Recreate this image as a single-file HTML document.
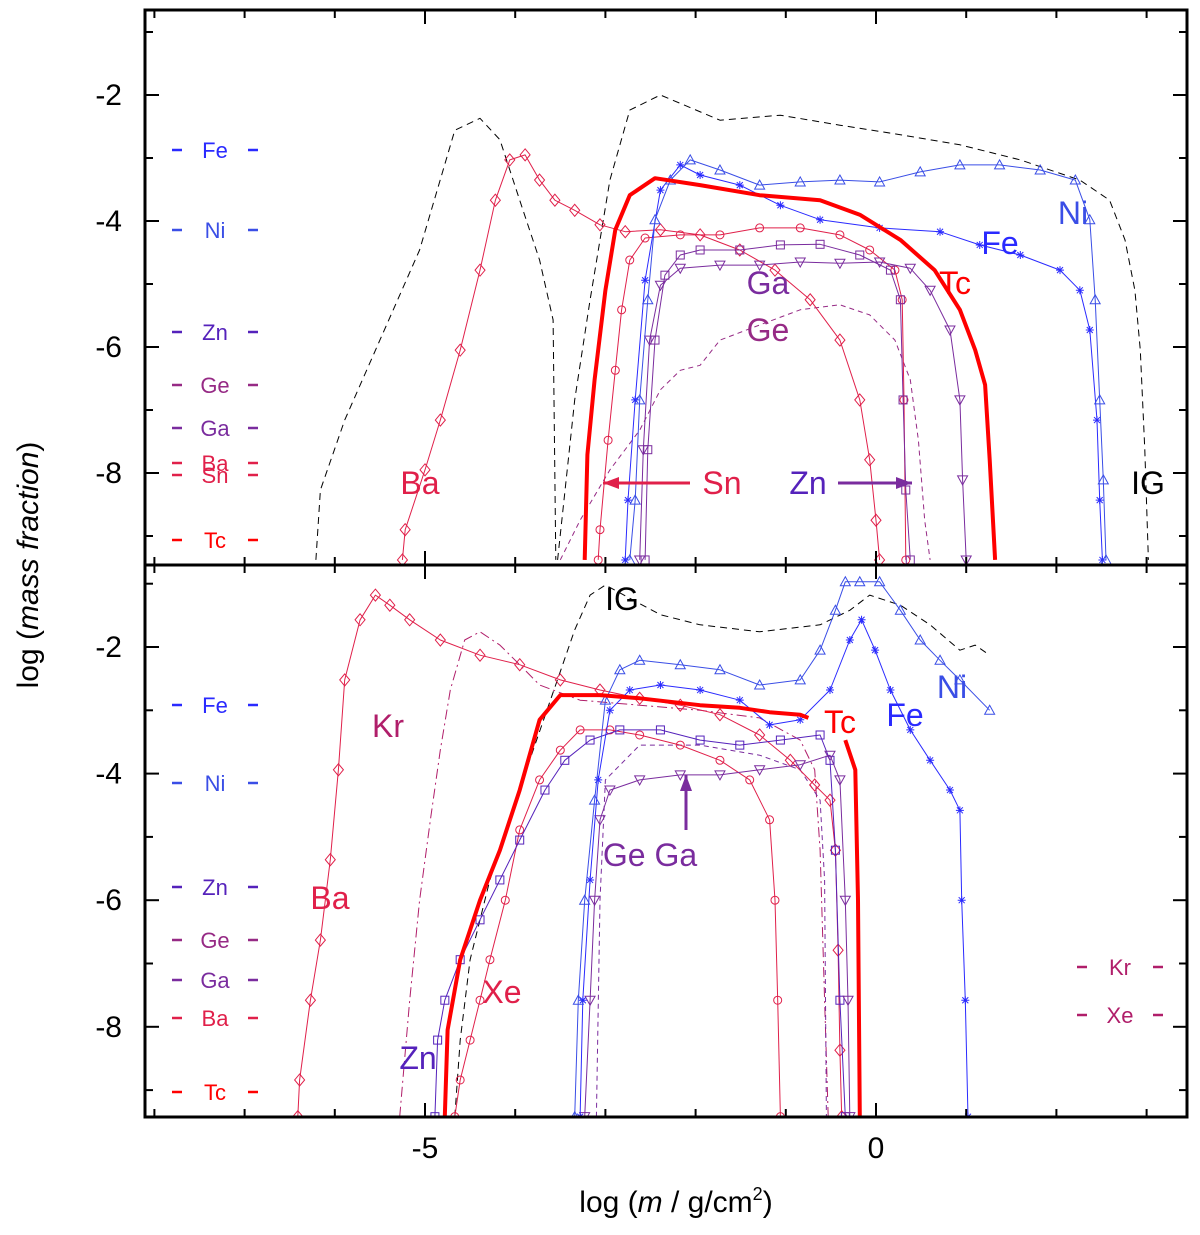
<!DOCTYPE html>
<html><head><meta charset="utf-8"><style>
body{margin:0;background:#fff}
svg{display:block;font-family:"Liberation Sans",sans-serif}
</style></head><body>
<svg id="c" width="1200" height="1235" viewBox="0 0 1200 1235">
<rect x="0" y="0" width="1200" height="1235" fill="#fff"/>
<g id="plot"></g>
<g id="axes"></g>
<text x="0" y="0" transform="translate(38,565) rotate(-90)" text-anchor="middle" font-size="30">log (<tspan font-style="italic">mass fraction</tspan>)</text>
<text x="676" y="1212" text-anchor="middle" font-size="30">log (<tspan font-style="italic">m</tspan> / g/cm<tspan font-size="18" dy="-12">2</tspan><tspan dy="12">)</tspan></text>
</svg>
<script>
// ---- data arrays ----
const xTicks=[-5,0];
const yTicks=[-2,-4,-6,-8];
// upper panel series [x,y] in data units
const upIG1=[[-6.21,-9.38],[-6.16,-8.27],[-5.89,-7.16],[-5.50,-5.89],[-5.06,-4.46],[-4.67,-2.56],[-4.39,-2.37],[-4.17,-2.71],[-3.95,-3.67],[-3.73,-4.62],[-3.58,-5.57],[-3.55,-9.38]];
const upIG2=[[-3.53,-9.38],[-3.34,-6.84],[-3.17,-5.25],[-2.95,-3.35],[-2.73,-2.24],[-2.39,-2.0],[-1.73,-2.40],[-1.06,-2.32],[-0.40,-2.48],[0.27,-2.63],[0.93,-2.79],[1.60,-3.03],[2.26,-3.35],[2.59,-3.67],[2.76,-4.30],[2.87,-5.10],[2.93,-6.05],[2.98,-7.63],[3.02,-9.38]];
const upBa=[[-5.25,-9.38],[-5.22,-8.90],[-5.0,-7.95],[-4.83,-7.16],[-4.61,-6.05],[-4.39,-4.78],[-4.22,-3.67],[-4.06,-3.03],[-3.89,-2.95],[-3.73,-3.35],[-3.56,-3.67],[-3.34,-3.83],[-3.06,-4.06],[-2.78,-4.17],[-2.39,-4.14],[-1.95,-4.22],[-1.51,-4.46],[-1.12,-4.78],[-0.73,-5.25],[-0.40,-5.89],[-0.18,-6.84],[-0.07,-7.79],[0,-8.75],[0.04,-9.38]];
const upTc=[[-3.23,-9.38],[-3.20,-7.71],[-3.12,-6.52],[-3.0,-5.10],[-2.89,-4.14],[-2.73,-3.59],[-2.45,-3.32],[-1.95,-3.43],[-1.29,-3.59],[-0.62,-3.67],[-0.18,-3.90],[0.27,-4.30],[0.65,-4.78],[0.93,-5.41],[1.10,-6.05],[1.21,-6.60],[1.26,-7.79],[1.32,-9.38]];
const upSn=[[-3.08,-9.38],[-3.06,-8.90],[-2.97,-7.48],[-2.89,-6.37],[-2.82,-5.41],[-2.73,-4.62],[-2.56,-4.27],[-2.17,-4.22],[-1.73,-4.22],[-1.29,-4.11],[-0.84,-4.11],[-0.40,-4.22],[-0.07,-4.46],[0.21,-4.78],[0.29,-5.25],[0.31,-6.84],[0.33,-9.38]];
const upNi=[[-2.73,-9.38],[-2.67,-8.43],[-2.62,-6.84],[-2.53,-5.25],[-2.45,-3.98],[-2.28,-3.35],[-2.06,-3.03],[-1.73,-3.19],[-1.29,-3.43],[-0.84,-3.38],[-0.40,-3.35],[0.04,-3.38],[0.49,-3.22],[0.93,-3.11],[1.37,-3.11],[1.82,-3.19],[2.21,-3.35],[2.37,-3.98],[2.43,-5.25],[2.48,-6.84],[2.52,-8.11],[2.55,-9.38]];
const upFe=[[-2.78,-9.38],[-2.75,-8.43],[-2.67,-6.84],[-2.56,-4.94],[-2.39,-3.51],[-2.17,-3.11],[-1.95,-3.27],[-1.51,-3.43],[-1.06,-3.75],[-0.62,-3.98],[0.04,-4.11],[0.71,-4.17],[1.15,-4.38],[1.60,-4.54],[2.04,-4.78],[2.26,-5.10],[2.37,-5.73],[2.45,-7.16],[2.48,-8.43],[2.51,-9.38]];
const upGa=[[-2.56,-9.38],[-2.53,-7.63],[-2.45,-5.89],[-2.34,-4.86],[-2.17,-4.54],[-1.95,-4.46],[-1.51,-4.46],[-1.06,-4.38],[-0.62,-4.37],[-0.18,-4.54],[0.16,-4.78],[0.27,-5.25],[0.30,-6.84],[0.33,-8.27],[0.38,-9.38]];
const upGe=[[-2.62,-9.38],[-2.58,-7.63],[-2.51,-5.89],[-2.39,-5.02],[-2.17,-4.75],[-1.73,-4.70],[-1.29,-4.70],[-0.84,-4.65],[-0.40,-4.67],[0.04,-4.65],[0.38,-4.75],[0.60,-5.10],[0.82,-5.73],[0.93,-6.84],[0.96,-8.11],[1.0,-9.38]];
const upZn=[[-3.50,-9.38],[-3.28,-8.75],[-2.95,-7.95],[-2.62,-7.32],[-2.39,-6.68],[-2.17,-6.37],[-1.95,-6.29],[-1.73,-5.89],[-1.29,-5.65],[-0.84,-5.41],[-0.40,-5.33],[-0.07,-5.49],[0.21,-5.89],[0.38,-6.52],[0.47,-7.48],[0.54,-8.75],[0.60,-9.38]];
// lower panel series
const loIG=[[-4.67,-9.42],[-4.61,-8.21],[-4.50,-6.94],[-4.28,-5.68],[-4.06,-4.73],[-3.84,-3.79],[-3.61,-2.84],[-3.34,-1.73],[-3.17,-1.18],[-3.0,-1.02],[-2.73,-1.23],[-2.39,-1.49],[-1.95,-1.65],[-1.29,-1.76],[-0.62,-1.65],[-0.29,-1.42],[-0.07,-1.18],[0.27,-1.34],[0.60,-1.65],[0.93,-2.05],[1.10,-1.97],[1.26,-2.13]];
const loBa=[[-6.41,-9.42],[-6.39,-8.84],[-6.27,-7.58],[-6.16,-6.63],[-6.05,-5.36],[-5.96,-3.94],[-5.89,-2.52],[-5.72,-1.57],[-5.55,-1.18],[-5.39,-1.34],[-5.17,-1.57],[-4.83,-1.89],[-4.39,-2.13],[-3.95,-2.28],[-3.50,-2.52],[-3.06,-2.68],[-2.62,-2.81],[-2.17,-2.92],[-1.73,-3.07],[-1.29,-3.39],[-0.95,-3.79],[-0.68,-4.18],[-0.51,-4.42],[-0.45,-5.21],[-0.42,-6.79],[-0.40,-8.37],[-0.38,-9.42]];
const loKr=[[-5.28,-9.42],[-5.17,-7.58],[-5.06,-6.0],[-4.94,-4.73],[-4.83,-3.63],[-4.72,-2.68],[-4.56,-1.89],[-4.39,-1.76],[-4.17,-1.97],[-3.95,-2.28],[-3.73,-2.60],[-3.28,-2.84],[-2.62,-2.92],[-1.95,-3.0],[-1.29,-3.12],[-0.84,-3.47],[-0.68,-3.94],[-0.62,-5.21],[-0.57,-7.58],[-0.53,-9.42]];
const loDash=[[-3.10,-9.42],[-3.06,-6.0],[-3.0,-4.10],[-2.62,-3.55],[-1.95,-3.55],[-1.29,-3.71],[-0.84,-3.94],[-0.62,-4.42],[-0.57,-5.68],[-0.55,-9.42]];
const loTc=[[-4.78,-9.42],[-4.75,-8.05],[-4.61,-6.94],[-4.39,-6.0],[-4.17,-5.21],[-3.95,-4.26],[-3.73,-3.15],[-3.50,-2.76],[-3.06,-2.76],[-2.62,-2.81],[-1.95,-2.92],[-1.51,-2.96],[-1.18,-3.03],[-0.84,-3.07],[-0.75,-3.12],null,[-0.34,-3.47],[-0.23,-3.94],[-0.20,-6.0],[-0.18,-9.42]];
const loXe=[[-4.67,-9.42],[-4.61,-8.84],[-4.50,-8.21],[-4.39,-7.58],[-4.28,-6.94],[-4.11,-6.0],[-3.95,-4.89],[-3.73,-4.10],[-3.50,-3.63],[-3.28,-3.31],[-2.95,-3.31],[-2.62,-3.39],[-2.17,-3.55],[-1.73,-3.79],[-1.40,-4.10],[-1.18,-4.73],[-1.12,-6.0],[-1.09,-7.58],[-1.06,-9.42]];
const loZn=[[-4.89,-9.42],[-4.86,-8.21],[-4.78,-7.58],[-4.61,-6.94],[-4.39,-6.31],[-4.17,-5.68],[-3.95,-5.05],[-3.67,-4.26],[-3.45,-3.79],[-3.17,-3.47],[-2.84,-3.31],[-2.39,-3.31],[-1.95,-3.47],[-1.51,-3.55],[-1.06,-3.47],[-0.62,-3.39],[-0.51,-3.79],[-0.45,-5.21],[-0.40,-7.58],[-0.34,-9.42]];
const loNi=[[-3.34,-9.42],[-3.30,-7.58],[-3.23,-6.0],[-3.12,-4.42],[-3.0,-2.84],[-2.84,-2.36],[-2.62,-2.21],[-2.17,-2.28],[-1.73,-2.36],[-1.29,-2.60],[-0.84,-2.52],[-0.62,-2.05],[-0.45,-1.42],[-0.34,-0.97],[-0.18,-0.97],[0.04,-0.97],[0.27,-1.42],[0.49,-1.89],[0.71,-2.21],[0.93,-2.52],[1.26,-3.0]];
const loFe=[[-3.28,-9.42],[-3.25,-7.58],[-3.17,-5.68],[-3.08,-4.10],[-2.95,-3.0],[-2.73,-2.68],[-2.39,-2.60],[-1.95,-2.68],[-1.51,-2.84],[-1.18,-3.23],[-0.84,-3.15],[-0.51,-2.68],[-0.29,-1.89],[-0.16,-1.57],[-0.01,-2.05],[0.16,-2.68],[0.38,-3.31],[0.60,-3.79],[0.82,-4.26],[0.93,-4.58],[0.95,-6.0],[0.99,-7.58],[1.02,-9.42]];
const loGe=[[-3.23,-9.42],[-3.17,-7.58],[-3.12,-6.0],[-3.06,-4.73],[-2.95,-4.26],[-2.62,-4.10],[-2.17,-4.02],[-1.73,-4.02],[-1.29,-3.94],[-0.84,-3.86],[-0.51,-3.71],[-0.40,-4.10],[-0.34,-6.0],[-0.31,-7.58],[-0.29,-9.42]];

// ---- axis functions ----
const X=v=>876+v*90.2;
const YU=v=>95+(-2-v)*63;
const YL=v=>647+(-2-v)*63.3;
const NS='http://www.w3.org/2000/svg';
const plot=document.getElementById('plot');
const axes=document.getElementById('axes');
function mk(tag,attrs,parent){const e=document.createElementNS(NS,tag);for(const k in attrs)e.setAttribute(k,attrs[k]);(parent||plot).appendChild(e);return e;}

// clip paths
const defs=mk('defs',{});
const cu=mk('clipPath',{id:'cu'},defs);mk('rect',{x:145,y:10,width:1042,height:555},cu);
const cl=mk('clipPath',{id:'cl'},defs);mk('rect',{x:145,y:565,width:1042,height:552},cl);

function marker(g,type,x,y,col){
  let e;
  if(type==='dia'){e=mk('path',{d:`M${x} ${y-6}L${x+5} ${y}L${x} ${y+6}L${x-5} ${y}Z`,fill:'none',stroke:col,'stroke-width':1},g);}
  else if(type==='circ'){e=mk('circle',{cx:x,cy:y,r:4,fill:'none',stroke:col,'stroke-width':1},g);}
  else if(type==='tri'){e=mk('path',{d:`M${x} ${y-5}L${x+5} ${y+4}L${x-5} ${y+4}Z`,fill:'none',stroke:col,'stroke-width':1},g);}
  else if(type==='dtri'){e=mk('path',{d:`M${x} ${y+5}L${x+5} ${y-4}L${x-5} ${y-4}Z`,fill:'none',stroke:col,'stroke-width':1},g);}
  else if(type==='sq'){e=mk('rect',{x:x-4,y:y-4,width:8,height:8,fill:'none',stroke:col,'stroke-width':1},g);}
  else if(type==='star'){e=mk('path',{d:`M${x-4} ${y}H${x+4}M${x} ${y-4}V${y+4}M${x-3} ${y-3}L${x+3} ${y+3}M${x-3} ${y+3}L${x+3} ${y-3}`,stroke:col,'stroke-width':1},g);}
  
  
}
function series(name,data,Y,clip,col,w,dash,mtype){
  const g=mk('g',{'clip-path':`url(#${clip})`});
  
  
  let d='',pen=false;
  data.forEach(p=>{if(!p){pen=false;return;}d+=(pen?'L':'M')+X(p[0]).toFixed(1)+' '+Y(p[1]).toFixed(1);pen=true;});
  const a={d:d,fill:'none',stroke:col,'stroke-width':w,'stroke-linejoin':'round'};
  if(dash)a['stroke-dasharray']=dash;
  const p=mk('path',a,g);
  
  
  if(mtype)data.forEach(pt=>{if(pt)marker(g,mtype,X(pt[0]),Y(pt[1]),col);});
}
const RED='#ff0000',CRIM='#e0204a',KR='#b01e6a',BLUE='#2a2aff',NIB='#3a4ee6',ZN='#5522bb',GA='#7a2c9e',GE='#962a85';
series('ig-upper-1',upIG1,YU,'cu','#000',1,'7 5');
series('ig-upper-2',upIG2,YU,'cu','#000',1,'7 5');
series('zn-upper',upZn,YU,'cu',GE,1,'5 4');
series('ba-upper',upBa,YU,'cu',CRIM,1,null,'dia');
series('sn-upper',upSn,YU,'cu',CRIM,1,null,'circ');
series('ga-upper',upGa,YU,'cu',GA,1,null,'sq');
series('ge-upper',upGe,YU,'cu',GA,1,null,'dtri');
series('fe-upper',upFe,YU,'cu',BLUE,1,null,'star');
series('ni-upper',upNi,YU,'cu',NIB,1,null,'tri');
series('tc-upper',upTc,YU,'cu',RED,4);
series('ig-lower',loIG,YL,'cl','#000',1,'7 5');
series('kr-lower',loKr,YL,'cl',KR,1,'10 4 2 4');
series('ge-lower-dash',loDash,YL,'cl',GA,1,'5 4');
series('ba-lower',loBa,YL,'cl',CRIM,1,null,'dia');
series('xe-lower',loXe,YL,'cl',CRIM,1,null,'circ');
series('zn-lower',loZn,YL,'cl',ZN,1,null,'sq');
series('ge-lower',loGe,YL,'cl',GA,1,null,'dtri');
series('fe-lower',loFe,YL,'cl',BLUE,1,null,'star');
series('ni-lower',loNi,YL,'cl',NIB,1,null,'tri');
series('tc-lower',loTc,YL,'cl',RED,4);

// labels
function lab(t,x,y,col,size,name){const e=mk('text',{x:x,y:y,fill:col,'font-size':size||32,'text-anchor':'middle'});e.textContent=t;}
lab('Ni',1073,224,NIB,32,'label-ni-upper');lab('Fe',1000,254,BLUE,32,'label-fe-upper');
lab('Tc',955,294,RED,32,'label-tc-upper');lab('Ga',768,294,GA,32,'label-ga-upper');
lab('Ge',768,341,GE,32,'label-ge-upper');lab('Ba',420,494,CRIM,32,'label-ba-upper');
lab('IG',1148,494,'#000',32,'label-ig-upper');lab('Sn',722,494,CRIM,32,'label-sn-upper');
lab('Zn',808,494,ZN,32,'label-zn-upper');
function arrow(x1,y1,x2,y2,col,name){const g=mk('g',{});
  mk('line',{x1:x1,y1:y1,x2:x2,y2:y2,stroke:col,'stroke-width':3},g);
  const ang=Math.atan2(y2-y1,x2-x1),L=16,W=6;
  const bx=x2-L*Math.cos(ang),by=y2-L*Math.sin(ang);
  mk('path',{d:`M${x2} ${y2}L${bx-W*Math.sin(ang)} ${by+W*Math.cos(ang)}L${bx+W*Math.sin(ang)} ${by-W*Math.cos(ang)}Z`,fill:col},g);}
arrow(690,483,603,483,CRIM,'sn-arrow');arrow(838,483,912,483,GA,'zn-arrow');
lab('IG',622,610,'#000',32,'label-ig-lower');lab('Kr',388,737,KR,32,'label-kr-lower');
lab('Ba',330,909,CRIM,32,'label-ba-lower');lab('Xe',502,1003,CRIM,32,'label-xe-lower');
lab('Zn',418,1069,ZN,32,'label-zn-lower');lab('Ge Ga',650,866,GA,32,'label-ge-ga-lower');
lab('Tc',840,733,RED,32,'label-tc-lower');lab('Fe',905,726,BLUE,32,'label-fe-lower');
lab('Ni',952,698,NIB,32,'label-ni-lower');
arrow(686,830,686,775,GA,'ge-ga-arrow');

// element legend marks
function leg(t,cx,y,col,name){const g=mk('g',{});
  mk('line',{x1:cx-43,y1:y,x2:cx-33,y2:y,stroke:col,'stroke-width':2.5},g);
  mk('line',{x1:cx+33,y1:y,x2:cx+43,y2:y,stroke:col,'stroke-width':2.5},g);
  const e=mk('text',{x:cx,y:y+8,fill:col,'font-size':22,'text-anchor':'middle'},g);e.textContent=t;}
[['Fe',150,BLUE],['Ni',230,NIB],['Zn',332,ZN],['Ge',385,GE],['Ga',428,GA],['Ba',463,CRIM],['Sn',475,CRIM],['Tc',540,RED]].forEach(a=>leg(a[0],215,a[1],a[2],'legend-upper-'+a[0].toLowerCase()));
[['Fe',705,BLUE],['Ni',783,NIB],['Zn',887,ZN],['Ge',940,GE],['Ga',980,GA],['Ba',1018,CRIM],['Tc',1092,RED]].forEach(a=>leg(a[0],215,a[1],a[2],'legend-lower-'+a[0].toLowerCase()));
leg('Kr',1120,967,KR,'legend-lower-kr');leg('Xe',1120,1015,KR,'legend-lower-xe');

// frames and ticks
function ax(tag,a,name){const e=mk(tag,a,axes);return e;}
ax('rect',{x:145,y:10,width:1042,height:1107,fill:'none',stroke:'#000','stroke-width':3},'plot-frame');
ax('line',{x1:145,y1:565,x2:1187,y2:565,stroke:'#000','stroke-width':3},'panel-divider');
for(let v=-8;v<=3;v++){const major=xTicks.includes(v);const L=major?14:8;const x=X(v);
  ax('line',{x1:x,y1:1117,x2:x,y2:1117-L,stroke:'#000','stroke-width':2},'x-tick');
  ax('line',{x1:x,y1:10,x2:x,y2:10+L,stroke:'#000','stroke-width':2},'x-tick-top');
  ax('line',{x1:x,y1:565,x2:x,y2:565-L,stroke:'#000','stroke-width':2},'x-tick-mid');
  ax('line',{x1:x,y1:565,x2:x,y2:565+L,stroke:'#000','stroke-width':2},'x-tick-mid2');}
xTicks.forEach(v=>{const e=ax('text',{x:X(v),y:1158,'font-size':30,'text-anchor':'middle'},'x-tick-label');e.textContent=v;});
[[YU,-9],[YL,-9]].forEach(([Y])=>{for(let v=-9;v<=-1;v++){const major=yTicks.includes(v);const L=major?14:8;const y=Y(v);
  if(Y===YU&&(y<12||y>563))continue;if(Y===YL&&(y<567||y>1115))continue;
  ax('line',{x1:145,y1:y,x2:145+L,y2:y,stroke:'#000','stroke-width':2},'y-tick');
  ax('line',{x1:1187,y1:y,x2:1187-L,y2:y,stroke:'#000','stroke-width':2},'y-tick-right');}
  yTicks.forEach(v=>{const e=ax('text',{x:122,y:Y(v)+10,'font-size':30,'text-anchor':'end'},'y-tick-label');e.textContent=v;});});
</script>
</body></html>
